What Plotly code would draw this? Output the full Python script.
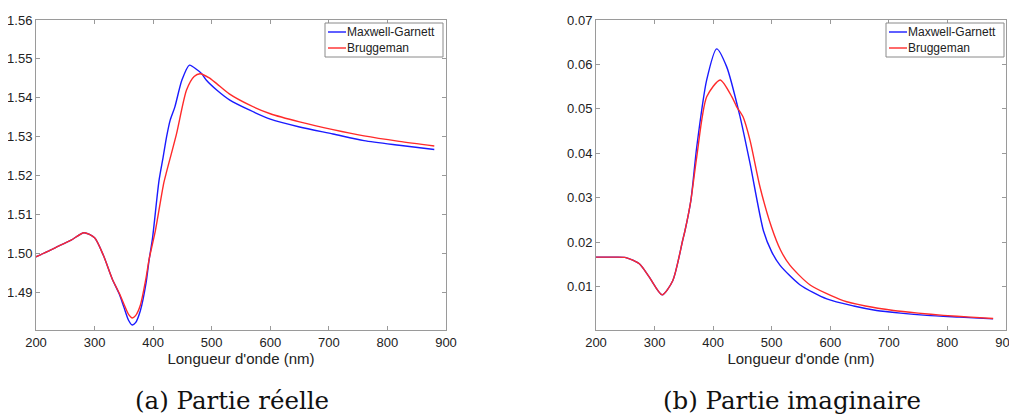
import plotly.graph_objects as go

# ---- data ----
x_re_mg = [200, 220, 240, 260, 282, 300, 315, 330, 342, 350, 358, 364, 370, 378, 388, 393, 399, 410, 417, 423, 429, 437, 449, 462, 475, 483, 491, 510, 531, 565, 600, 650, 707, 760, 820, 880]
y_re_mg = [1.4991, 1.5005, 1.5020, 1.5034, 1.5053, 1.5040, 1.4995, 1.4935, 1.4896, 1.4862, 1.4828, 1.4816, 1.4822, 1.4852, 1.4925, 1.4982, 1.5040, 1.5187, 1.5247, 1.5300, 1.5342, 1.5376, 1.5445, 1.5484, 1.5472, 1.5462, 1.5445, 1.5418, 1.5394, 1.5368, 1.5345, 1.5325, 1.5307, 1.5290, 1.5278, 1.5267]

x_re_br = [200, 220, 240, 260, 282, 300, 315, 330, 342, 350, 358, 364, 370, 378, 388, 393, 404, 418, 423, 440, 457, 470, 480, 495, 508, 530, 565, 600, 650, 707, 760, 820, 880]
y_re_br = [1.4991, 1.5005, 1.5020, 1.5034, 1.5053, 1.5040, 1.4995, 1.4935, 1.4898, 1.4870, 1.4843, 1.4834, 1.4840, 1.4866, 1.4938, 1.4984, 1.5060, 1.5180, 1.5210, 1.5308, 1.5420, 1.5455, 1.5462, 1.5452, 1.5437, 1.5410, 1.5381, 1.5359, 1.5338, 1.5318, 1.5302, 1.5288, 1.5276]

x_im_mg = [200, 230, 251, 274, 291, 313, 331, 348, 352, 362, 372, 389, 406, 423, 446, 463, 486, 500, 514, 548, 594, 640, 679, 720, 765, 820, 878]
y_im_mg = [0.0166, 0.0166, 0.0165, 0.0151, 0.0121, 0.0081, 0.0113, 0.0204, 0.0226, 0.0294, 0.0414, 0.0565, 0.0635, 0.0595, 0.0482, 0.0377, 0.0225, 0.0178, 0.0148, 0.0104, 0.0072, 0.0056, 0.0046, 0.0040, 0.0035, 0.0031, 0.0027]

x_im_br = [200, 230, 251, 274, 291, 313, 331, 348, 352, 362, 372, 389, 412, 432, 440, 451, 463, 480, 500, 515, 531, 565, 622, 660, 708, 750, 793, 840, 878]
y_im_br = [0.0166, 0.0166, 0.0165, 0.0151, 0.0121, 0.0081, 0.0113, 0.0204, 0.0226, 0.0294, 0.0392, 0.0527, 0.0565, 0.0527, 0.0505, 0.0482, 0.0429, 0.0324, 0.0232, 0.0182, 0.0148, 0.0104, 0.0068, 0.0056, 0.0046, 0.0040, 0.0035, 0.0031, 0.0028]

x_ticks = [200, 300, 400, 500, 600, 700, 800, 900]
y_ticks_re = [1.49, 1.50, 1.51, 1.52, 1.53, 1.54, 1.55, 1.56]
y_ticks_im = [0.01, 0.02, 0.03, 0.04, 0.05, 0.06, 0.07]

names = ["Maxwell-Garnett", "Bruggeman"]
colors = ["#1a1aff", "#ff2a2a"]
x_title = "Longueur d'onde (nm)"
captions = ["(a) Partie réelle", "(b) Partie imaginaire"]

W, H = 1017, 414
OFF = 8  # the page body margin shifts the figure by this many pixels
SANS = "Liberation Sans"


def px(xp):
    return (xp - OFF) / W


def py(yp):
    return 1 - (yp - OFF) / H


fig = go.Figure()


def add(x, y, name, color, xa, ya):
    fig.add_trace(go.Scatter(x=x, y=y, name=name, mode="lines",
                             line=dict(color=color, width=1.4, shape="spline", smoothing=0.7),
                             xaxis=xa, yaxis=ya, showlegend=False))


add(x_re_mg, y_re_mg, names[0], colors[0], "x", "y")
add(x_re_br, y_re_br, names[1], colors[1], "x", "y")
add(x_im_mg, y_im_mg, names[0], colors[0], "x2", "y2")
add(x_im_br, y_im_br, names[1], colors[1], "x2", "y2")

tickfont = dict(family=SANS, size=13, color="#222222")
common_ax = dict(showline=True, linecolor="#9a9a9a", linewidth=1, mirror="ticks",
                 ticks="inside", ticklen=4, tickcolor="#9a9a9a", showgrid=False,
                 zeroline=False, tickfont=tickfont, automargin=False)
title_font = dict(family=SANS, size=15, color="#222222")

ydom = [py(330), py(20)]
fig.update_layout(
    template="none",
    width=W, height=H, margin=dict(l=0, r=0, t=0, b=0, autoexpand=False),
    paper_bgcolor="white", plot_bgcolor="white",
    font=dict(family=SANS, color="#222222"),
    xaxis=dict(domain=[px(36), px(446)], range=[200, 900], tickvals=x_ticks, anchor="y",
               title=dict(text=x_title, standoff=0, font=title_font), **common_ax),
    yaxis=dict(domain=ydom, range=[1.4803, 1.56], tickvals=y_ticks_re, tickformat=".2f", anchor="x",
               **common_ax),
    xaxis2=dict(domain=[px(596), px(1006)], range=[200, 900], tickvals=x_ticks, anchor="y2",
                title=dict(text=x_title, standoff=0, font=title_font), **common_ax),
    yaxis2=dict(domain=ydom, range=[0.0002, 0.07], tickvals=y_ticks_im, tickformat=".2f", anchor="x2",
                **common_ax),
    showlegend=False,
)

# legends drawn as boxes with sample lines and labels
for (bx0, bx1) in [(325, 443), (886, 1004)]:
    fig.add_shape(type="rect", xref="paper", yref="paper",
                  x0=px(bx0), x1=px(bx1), y0=py(57), y1=py(23),
                  line=dict(color="#8a8a8a", width=1), fillcolor="white", layer="above")
    for i, (nm, col) in enumerate(zip(names, colors)):
        yy = 32 + 16 * i
        fig.add_shape(type="line", xref="paper", yref="paper",
                      x0=px(bx0 + 3), x1=px(bx0 + 21), y0=py(yy), y1=py(yy),
                      line=dict(color=col, width=1.4), layer="above")
        fig.add_annotation(x=px(bx0 + 20), y=py(yy), xref="paper", yref="paper", text=nm,
                           showarrow=False, xanchor="left", yanchor="middle",
                           font=dict(family=SANS, size=12, color="#222"))

for cx, txt in [(232, captions[0]), (792, captions[1])]:
    fig.add_annotation(x=px(cx), y=py(400), xref="paper", yref="paper", text=txt,
                       showarrow=False, xanchor="center", yanchor="middle",
                       font=dict(family="DejaVu Serif", size=24.5, color="#111"))

fig.write_html("out.html")
